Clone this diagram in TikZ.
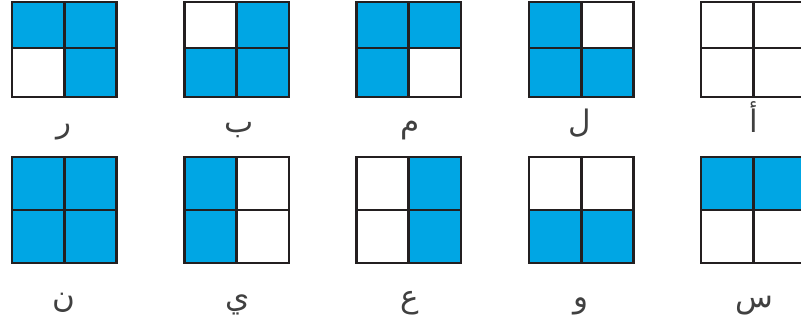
\documentclass[tikz,border=0pt]{standalone}
\usepackage{fontspec}
\usepackage{tikz}
\newfontfamily\arabicfont[Script=Arabic]{DejaVu Sans}
\TeXXeTstate=1
\definecolor{cellblue}{RGB}{0,166,228}
\definecolor{gridline}{RGB}{35,31,32}

\begin{document}
\begin{tikzpicture}[
    x=1pt, y=-1pt,
    box/.style={draw=gridline, line width=2.6pt},
    on/.style={fill=cellblue},
    lbl/.style={anchor=base, inner sep=0pt, text=black!75, font=\arabicfont\fontsize{31}{33}\selectfont}
]
\useasboundingbox (0,0) rectangle (801,320);
\clip (0,0) rectangle (801,320);

% top row
\fill[on] (12,2) rectangle (116.5,48);
\fill[on] (64.25,48) rectangle (116.5,97);
\draw[box] (12,2) rectangle (116.5,97) (64.25,2) -- (64.25,97) (12,48) -- (116.5,48);

\fill[on] (236.75,2) rectangle (289,48);
\fill[on] (184.5,48) rectangle (289,97);
\draw[box] (184.5,2) rectangle (289,97) (236.75,2) -- (236.75,97) (184.5,48) -- (289,48);

\fill[on] (356.5,2) rectangle (461,48);
\fill[on] (356.5,48) rectangle (408.75,97);
\draw[box] (356.5,2) rectangle (461,97) (408.75,2) -- (408.75,97) (356.5,48) -- (461,48);

\fill[on] (529,2) rectangle (581.25,48);
\fill[on] (529,48) rectangle (633.5,97);
\draw[box] (529,2) rectangle (633.5,97) (581.25,2) -- (581.25,97) (529,48) -- (633.5,48);

\draw[box] (701,2) rectangle (805.5,97) (753.25,2) -- (753.25,97) (701,48) -- (805.5,48);

\node[lbl] (ra) at (64,133) {\beginR ر\endR};
\node[lbl] (ba) at (239,133) {\beginR ب\endR};
\node[lbl] (mim) at (410,133) {\beginR م\endR};
\node[lbl] (lam) at (580,133) {\beginR ل\endR};
\node[lbl] (alif) at (754,133) {\beginR أ\endR};

% bottom row
\fill[on] (12,157) rectangle (116.5,263);
\draw[box] (12,157) rectangle (116.5,263) (64.25,157) -- (64.25,263) (12,210) -- (116.5,210);

\fill[on] (184.5,157) rectangle (236.75,263);
\draw[box] (184.5,157) rectangle (289,263) (236.75,157) -- (236.75,263) (184.5,210) -- (289,210);

\fill[on] (408.75,157) rectangle (461,263);
\draw[box] (356.5,157) rectangle (461,263) (408.75,157) -- (408.75,263) (356.5,210) -- (461,210);

\fill[on] (529,210) rectangle (633.5,263);
\draw[box] (529,157) rectangle (633.5,263) (581.25,157) -- (581.25,263) (529,210) -- (633.5,210);

\fill[on] (701,157) rectangle (805.5,210);
\draw[box] (701,157) rectangle (805.5,263) (753.25,157) -- (753.25,263) (701,210) -- (805.5,210);

\node[lbl] (nun) at (64,308) {\beginR ن\endR};
\node[lbl] (ya) at (238,308) {\beginR ي\endR};
\node[lbl] (ayn) at (410,308) {\beginR ع\endR};
\node[lbl] (waw) at (581,308) {\beginR و\endR};
\node[lbl] (sin) at (754,308) {\beginR س\endR};
\end{tikzpicture}
\end{document}
